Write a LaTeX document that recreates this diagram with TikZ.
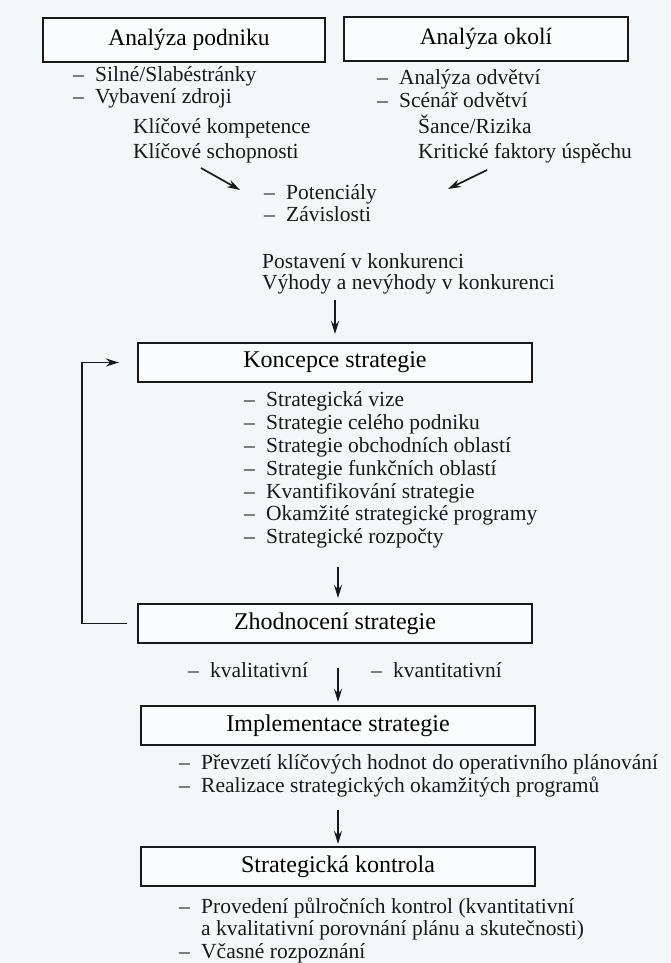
\documentclass[tikz,border=0pt]{standalone}
\usepackage{fontspec}
\setmainfont{Liberation Serif}
\usetikzlibrary{arrows.meta}
\begin{document}
\begin{tikzpicture}[x=1pt,y=-1pt,
  box/.style={draw=black!90,line width=2.2pt,fill=white!60!bgc,minimum height=39pt,inner sep=0pt,
    font=\fontsize{24}{26}\selectfont},
  txt/.style={anchor=base west,inner sep=0pt,font=\fontsize{21.5}{23}\selectfont,text=black!90},
  arr/.style={draw=black!90,line width=1.7pt,-{Stealth[length=13pt,width=8pt]}}]
\definecolor{bgc}{RGB}{244,247,250}
\fill[bgc] (0,0) rectangle (670,963);
\useasboundingbox (0,0) rectangle (670,963);
\newcommand{\dsh}{\makebox[22pt][l]{–}}
% top boxes
\node[box,minimum width=282pt,minimum height=44pt,font=\fontsize{23.5}{26}\selectfont] (podnik) at (184,40) {\hspace*{10pt}Analýza podniku};
\node[box,minimum width=284pt,minimum height=44pt,font=\fontsize{23.5}{26}\selectfont] (okoli) at (486,39) {Analýza okolí};
% left list
\node[txt] (l1) at (73,82) {\dsh Silné/Slabéstránky};
\node[txt] (l2) at (73,104) {\dsh Vybavení zdroji};
\node[txt] (l3) at (133,134) {Klíčové kompetence};
\node[txt] (l4) at (133,158) {Klíčové schopnosti};
% right list
\node[txt] (r1) at (377,85) {\dsh Analýza odvětví};
\node[txt] (r2) at (377,108) {\dsh Scénář odvětví};
\node[txt] (r3) at (418,134) {Šance/Rizika};
\node[txt] (r4) at (418,158) {Kritické faktory úspěchu};
% middle
\node[txt] (p1) at (264,199) {\dsh Potenciály};
\node[txt] (p2) at (264,221) {\dsh Závislosti};
\node[txt] (k1) at (262,268) {Postavení v konkurenci};
\node[txt] (k2) at (262,289) {Výhody a nevýhody v konkurenci};
\coordinate (dl1) at (201,168); \coordinate (dl2) at (240,190);
\coordinate (dr1) at (487,170); \coordinate (dr2) at (448,189);
\draw[arr] (dl1) -- (dl2);
\draw[arr] (dr1) -- (dr2);
% koncepce
\node[box,minimum width=394pt] (konc) at (335,362.5) {Koncepce strategie};
\coordinate (a1s) at (335,300); \coordinate (a1e) at (335,334);
\draw[arr] (a1s) -- (a1e);
\node[txt] (c1) at (244,406) {\dsh Strategická vize};
\node[txt] (c2) at (244,429) {\dsh Strategie celého podniku};
\node[txt] (c3) at (244,452) {\dsh Strategie obchodních oblastí};
\node[txt] (c4) at (244,475) {\dsh Strategie funkčních oblastí};
\node[txt] (c5) at (244,498) {\dsh Kvantifikování strategie};
\node[txt] (c6) at (244,520) {\dsh Okamžité strategické programy};
\node[txt] (c7) at (244,543) {\dsh Strategické rozpočty};
% zhodnoceni
\node[box,minimum width=394pt] (zhod) at (335,623.5) {Zhodnocení strategie};
\coordinate (a2s) at (338,567); \coordinate (a2e) at (338,598);
\draw[arr] (a2s) -- (a2e);
\draw[arr] ([xshift=-10pt]zhod.west) -- ++(-45,0) |- ([xshift=-18pt]konc.west);
\node[txt] (q1) at (188,677) {\dsh kvalitativní};
\node[txt] (q2) at (371,677) {\dsh kvantitativní};
% implementace
\node[box,minimum width=394pt] (impl) at (338,725.5) {Implementace strategie};
\coordinate (a3s) at (338,668); \coordinate (a3e) at (338,702);
\draw[arr] (a3s) -- (a3e);
\node[txt] (i1) at (179,769) {\dsh Převzetí klíčových hodnot do operativního plánování};
\node[txt] (i2) at (179,792) {\dsh Realizace strategických okamžitých programů};
% kontrola
\node[box,minimum width=394pt] (kontr) at (338,866.5) {Strategická kontrola};
\coordinate (a4s) at (338,810); \coordinate (a4e) at (338,844);
\draw[arr] (a4s) -- (a4e);
\node[txt] (s1) at (179,913) {\dsh Provedení půlročních kontrol (kvantitativní};
\node[txt] (s2) at (201,935) {a kvalitativní porovnání plánu a skutečnosti)};
\node[txt] (s3) at (179,958) {\dsh Včasné rozpoznání};
\end{tikzpicture}
\end{document}
